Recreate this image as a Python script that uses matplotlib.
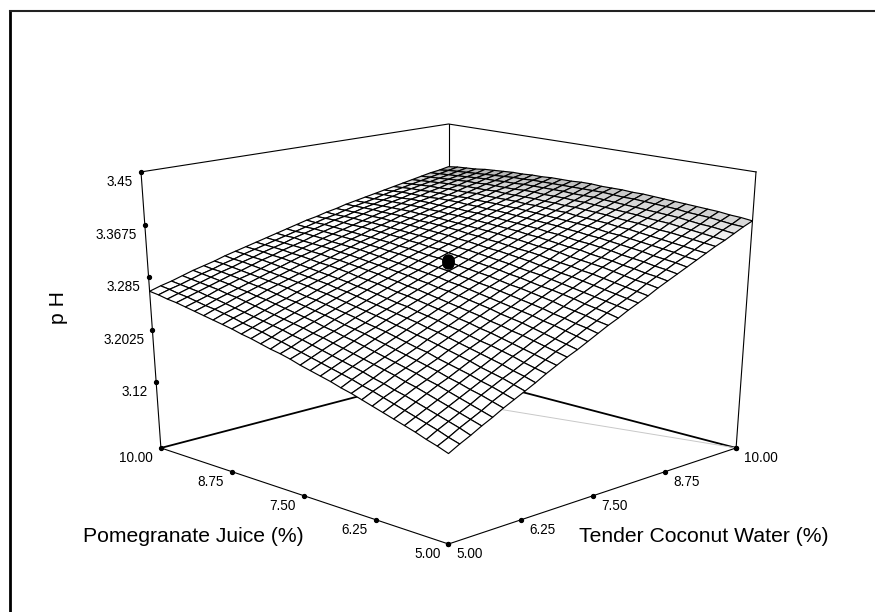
import numpy as np
import matplotlib
matplotlib.use('Agg')
import matplotlib.pyplot as plt
from matplotlib.lines import Line2D
from mpl_toolkits.mplot3d import proj3d

plt.rcParams['font.family'] = ['Liberation Sans', 'DejaVu Sans']

coconut = [5.0, 5.167, 5.333, 5.5, 5.667, 5.833, 6.0, 6.167, 6.333, 6.5, 6.667, 6.833, 7.0, 7.167, 7.333, 7.5,
           7.667, 7.833, 8.0, 8.167, 8.333, 8.5, 8.667, 8.833, 9.0, 9.167, 9.333, 9.5, 9.667, 9.833, 10.0]
pomegranate = [5.0, 5.167, 5.333, 5.5, 5.667, 5.833, 6.0, 6.167, 6.333, 6.5, 6.667, 6.833, 7.0, 7.167, 7.333, 7.5,
               7.667, 7.833, 8.0, 8.167, 8.333, 8.5, 8.667, 8.833, 9.0, 9.167, 9.333, 9.5, 9.667, 9.833, 10.0]
ph_grid = [
    [3.149,3.158,3.166,3.175,3.183,3.192,3.200,3.208,3.216,3.225,3.233,3.241,3.248,3.256,3.264,3.272,3.279,3.287,3.294,3.301,3.309,3.316,3.323,3.330,3.337,3.344,3.351,3.357,3.364,3.371,3.377],
    [3.155,3.163,3.172,3.180,3.188,3.197,3.205,3.213,3.221,3.229,3.237,3.245,3.252,3.260,3.268,3.275,3.283,3.290,3.297,3.304,3.312,3.319,3.326,3.333,3.339,3.346,3.353,3.359,3.366,3.372,3.379],
    [3.160,3.169,3.177,3.185,3.193,3.202,3.210,3.218,3.225,3.233,3.241,3.249,3.256,3.264,3.271,3.279,3.286,3.293,3.300,3.307,3.314,3.321,3.328,3.335,3.342,3.348,3.355,3.361,3.368,3.374,3.380],
    [3.166,3.174,3.182,3.190,3.198,3.206,3.214,3.222,3.230,3.238,3.245,3.253,3.260,3.268,3.275,3.282,3.289,3.296,3.303,3.310,3.317,3.324,3.331,3.337,3.344,3.350,3.357,3.363,3.369,3.376,3.382],
    [3.171,3.179,3.187,3.195,3.203,3.211,3.219,3.226,3.234,3.242,3.249,3.257,3.264,3.271,3.278,3.285,3.293,3.299,3.306,3.313,3.320,3.326,3.333,3.340,3.346,3.352,3.359,3.365,3.371,3.377,3.383],
    [3.176,3.184,3.192,3.200,3.208,3.215,3.223,3.231,3.238,3.246,3.253,3.260,3.268,3.275,3.282,3.289,3.296,3.302,3.309,3.316,3.323,3.329,3.335,3.342,3.348,3.354,3.360,3.367,3.373,3.378,3.384],
    [3.181,3.189,3.197,3.205,3.212,3.220,3.227,3.235,3.242,3.249,3.257,3.264,3.271,3.278,3.285,3.292,3.299,3.305,3.312,3.318,3.325,3.331,3.338,3.344,3.350,3.356,3.362,3.368,3.374,3.380,3.385],
    [3.186,3.194,3.201,3.209,3.217,3.224,3.231,3.239,3.246,3.253,3.260,3.267,3.274,3.281,3.288,3.295,3.301,3.308,3.314,3.321,3.327,3.333,3.340,3.346,3.352,3.358,3.364,3.369,3.375,3.381,3.386],
    [3.191,3.199,3.206,3.214,3.221,3.228,3.236,3.243,3.250,3.257,3.264,3.271,3.278,3.284,3.291,3.298,3.304,3.311,3.317,3.323,3.329,3.336,3.342,3.348,3.353,3.359,3.365,3.371,3.376,3.382,3.387],
    [3.196,3.203,3.210,3.218,3.225,3.232,3.239,3.247,3.254,3.260,3.267,3.274,3.281,3.287,3.294,3.300,3.307,3.313,3.319,3.325,3.332,3.337,3.343,3.349,3.355,3.361,3.366,3.372,3.377,3.383,3.388],
    [3.200,3.208,3.215,3.222,3.229,3.236,3.243,3.250,3.257,3.264,3.271,3.277,3.284,3.290,3.297,3.303,3.309,3.315,3.322,3.328,3.334,3.339,3.345,3.351,3.357,3.362,3.368,3.373,3.378,3.384,3.389],
    [3.205,3.212,3.219,3.226,3.233,3.240,3.247,3.254,3.261,3.267,3.274,3.280,3.287,3.293,3.299,3.306,3.312,3.318,3.324,3.330,3.335,3.341,3.347,3.352,3.358,3.363,3.369,3.374,3.379,3.384,3.389],
    [3.209,3.216,3.223,3.230,3.237,3.244,3.251,3.257,3.264,3.270,3.277,3.283,3.290,3.296,3.302,3.308,3.314,3.320,3.326,3.331,3.337,3.343,3.348,3.354,3.359,3.364,3.370,3.375,3.380,3.385,3.390],
    [3.213,3.220,3.227,3.234,3.241,3.248,3.254,3.261,3.267,3.274,3.280,3.286,3.292,3.298,3.304,3.310,3.316,3.322,3.328,3.333,3.339,3.344,3.350,3.355,3.360,3.366,3.371,3.376,3.381,3.386,3.390],
    [3.217,3.224,3.231,3.238,3.244,3.251,3.257,3.264,3.270,3.276,3.283,3.289,3.295,3.301,3.307,3.312,3.318,3.324,3.329,3.335,3.340,3.346,3.351,3.356,3.361,3.366,3.371,3.376,3.381,3.386,3.390],
    [3.222,3.228,3.235,3.242,3.248,3.254,3.261,3.267,3.273,3.279,3.285,3.291,3.297,3.303,3.309,3.315,3.320,3.326,3.331,3.336,3.342,3.347,3.352,3.357,3.362,3.367,3.372,3.377,3.381,3.386,3.391],
    [3.226,3.232,3.239,3.245,3.251,3.258,3.264,3.270,3.276,3.282,3.288,3.294,3.300,3.305,3.311,3.317,3.322,3.327,3.333,3.338,3.343,3.348,3.353,3.358,3.363,3.368,3.372,3.377,3.382,3.386,3.391],
    [3.229,3.236,3.242,3.249,3.255,3.261,3.267,3.273,3.279,3.285,3.291,3.296,3.302,3.307,3.313,3.318,3.324,3.329,3.334,3.339,3.344,3.349,3.354,3.359,3.364,3.368,3.373,3.377,3.382,3.386,3.390],
    [3.233,3.239,3.246,3.252,3.258,3.264,3.270,3.276,3.282,3.287,3.293,3.299,3.304,3.309,3.315,3.320,3.325,3.330,3.336,3.341,3.345,3.350,3.355,3.360,3.364,3.369,3.373,3.378,3.382,3.386,3.390],
    [3.237,3.243,3.249,3.255,3.261,3.267,3.273,3.279,3.284,3.290,3.295,3.301,3.306,3.311,3.317,3.322,3.327,3.332,3.337,3.342,3.346,3.351,3.356,3.360,3.365,3.369,3.373,3.378,3.382,3.386,3.390],
    [3.240,3.246,3.252,3.258,3.264,3.270,3.275,3.281,3.287,3.292,3.298,3.303,3.308,3.313,3.318,3.323,3.328,3.333,3.338,3.343,3.347,3.352,3.356,3.361,3.365,3.369,3.373,3.377,3.382,3.386,3.389],
    [3.244,3.249,3.255,3.261,3.267,3.272,3.278,3.284,3.289,3.294,3.300,3.305,3.310,3.315,3.320,3.325,3.330,3.334,3.339,3.344,3.348,3.352,3.357,3.361,3.365,3.369,3.374,3.377,3.381,3.385,3.389],
    [3.247,3.253,3.258,3.264,3.270,3.275,3.281,3.286,3.291,3.296,3.302,3.307,3.312,3.317,3.321,3.326,3.331,3.335,3.340,3.344,3.349,3.353,3.357,3.362,3.366,3.370,3.373,3.377,3.381,3.385,3.388],
    [3.250,3.256,3.261,3.267,3.272,3.278,3.283,3.288,3.293,3.298,3.303,3.308,3.313,3.318,3.323,3.327,3.332,3.336,3.341,3.345,3.349,3.353,3.357,3.362,3.365,3.369,3.373,3.377,3.380,3.384,3.388],
    [3.253,3.259,3.264,3.270,3.275,3.280,3.285,3.290,3.295,3.300,3.305,3.310,3.315,3.319,3.324,3.328,3.333,3.337,3.341,3.346,3.350,3.354,3.358,3.362,3.365,3.369,3.373,3.376,3.380,3.383,3.387],
    [3.256,3.261,3.267,3.272,3.277,3.282,3.287,3.292,3.297,3.302,3.307,3.311,3.316,3.320,3.325,3.329,3.334,3.338,3.342,3.346,3.350,3.354,3.358,3.361,3.365,3.369,3.372,3.376,3.379,3.382,3.386],
    [3.259,3.264,3.269,3.275,3.280,3.285,3.289,3.294,3.299,3.304,3.308,3.313,3.317,3.322,3.326,3.330,3.334,3.338,3.342,3.346,3.350,3.354,3.358,3.361,3.365,3.368,3.372,3.375,3.378,3.381,3.385],
    [3.262,3.267,3.272,3.277,3.282,3.287,3.291,3.296,3.301,3.305,3.310,3.314,3.318,3.323,3.327,3.331,3.335,3.339,3.343,3.347,3.350,3.354,3.357,3.361,3.364,3.368,3.371,3.374,3.377,3.380,3.383],
    [3.264,3.269,3.274,3.279,3.284,3.289,3.293,3.298,3.302,3.307,3.311,3.315,3.320,3.324,3.328,3.332,3.336,3.339,3.343,3.347,3.350,3.354,3.357,3.361,3.364,3.367,3.370,3.373,3.376,3.379,3.382],
    [3.267,3.272,3.276,3.281,3.286,3.290,3.295,3.299,3.304,3.308,3.312,3.316,3.320,3.324,3.328,3.332,3.336,3.339,3.343,3.347,3.350,3.353,3.357,3.360,3.363,3.366,3.369,3.372,3.375,3.378,3.381],
    [3.269,3.274,3.278,3.283,3.288,3.292,3.296,3.301,3.305,3.309,3.313,3.317,3.321,3.325,3.329,3.333,3.336,3.340,3.343,3.347,3.350,3.353,3.356,3.359,3.362,3.365,3.368,3.371,3.374,3.376,3.379],
]
center_ph = [3.3135, 3.3155, 3.3175]
xy_ticks = [5.0, 6.14, 7.35, 8.64, 10.0]
xy_labels = ['5.00', '6.25', '7.50', '8.75', '10.00']
ph_ticks = [3.125, 3.2075, 3.291, 3.3705, 3.45]
ph_labels = ['3.12', '3.2025', '3.285', '3.3675', '3.45']
ph_floor = 3.015


def main() -> None:
    W, H = 875, 612
    fig = plt.figure(figsize=(W / 100, H / 100), dpi=100)
    ax = fig.add_subplot(projection='3d', computed_zorder=False)
    ax.set_proj_type('persp', focal_length=0.5755)
    ax.view_init(elev=20.2, azim=-135)
    ax.set_box_aspect((1, 1, 1.02))
    ax.set_xlim(5, 10, view_margin=0)
    ax.set_ylim(5, 10, view_margin=0)
    ax.set_zlim(ph_floor, 3.45, view_margin=0)
    ax.set_axis_off()
    ax.apply_aspect = lambda position=None: None

    # fit the axes box so the cube lands where it is in the picture
    M = ax.get_proj()

    def proj(x, y, z):
        px, py, _ = proj3d.proj_transform(x, y, z, M)
        return px, py

    vl = ax.viewLim
    xl = (proj(5, 10, 3.45)[0] - vl.x0) / vl.width
    xr = (proj(10, 5, 3.45)[0] - vl.x0) / vl.width
    yb = (proj(5, 5, ph_floor)[1] - vl.y0) / vl.height
    yt = (proj(10, 10, 3.45)[1] - vl.y0) / vl.height
    w = (756 - 141) / (xr - xl)
    h = (544 - 124) / (yt - yb)
    x0 = 141 - xl * w
    y0 = (H - 544) - yb * h
    ax.set_position([x0 / W, y0 / H, w / W, h / H])
    ax.patch.set_visible(False)

    X, Y = np.meshgrid(coconut, pomegranate)
    Z = np.array(ph_grid)

    # facets go grey towards the far right edge
    grey = 1 - 1.3 * np.clip((X - 5) / 5 + 0.12 * (Y - 5) / 5 - 0.85, 0, 1)
    fc = np.dstack([grey, grey, grey, np.ones_like(grey)])

    def edge(xs, ys, zs, lw=0.8, color='black', zorder=1):
        ax.plot(xs, ys, zs, color=color, lw=lw, zorder=zorder, clip_on=False)

    # back of the box
    edge([5, 10, 10], [10, 10, 5], [3.45, 3.45, 3.45])
    edge([10, 10], [10, 10], [ph_floor, 3.45])
    edge([5, 10], [10, 10], [ph_floor, ph_floor], lw=1.3)
    edge([10, 10], [5, 10], [ph_floor, ph_floor], lw=1.3)
    edge([10, 9], [5, 9], [ph_floor, ph_floor], lw=0.7, color='#c8c8c8')

    surf = ax.plot_surface(X, Y, Z, rstride=1, cstride=1, facecolors=fc, linewidth=0.85, shade=False, zorder=2)
    surf.set_edgecolor('black')
    surf.set_clip_on(False)

    ax.plot([7.5] * 3, [7.5] * 3, center_ph, 'o', color='black', ms=9, mew=0, zorder=3, clip_on=False)

    # front of the box
    edge([5, 5], [10, 10], [ph_floor, 3.45], zorder=4)
    edge([10, 10], [5, 5], [ph_floor, 3.45], zorder=4)
    edge([5, 5, 10], [10, 5, 5], [ph_floor] * 3, zorder=4)

    ax.plot([5] * 5, xy_ticks, [ph_floor] * 5, 'o', color='black', ms=2.8, zorder=4, clip_on=False)
    ax.plot(xy_ticks, [5] * 5, [ph_floor] * 5, 'o', color='black', ms=2.8, zorder=4, clip_on=False)
    ax.plot([10], [5], [ph_floor], 'o', color='black', ms=2.8, zorder=4, clip_on=False)
    ax.plot([5] * 5, [10] * 5, ph_ticks, 'o', color='black', ms=2.8, zorder=4, clip_on=False)

    off = dict(textcoords='offset pixels', fontsize=9.75, annotation_clip=False, va='center')
    for t, s in zip(xy_ticks, xy_labels):
        ax.annotate(s, xy=proj(5, t, ph_floor), xytext=(-8, -10), ha='right', **off)
        ax.annotate(s, xy=proj(t, 5, ph_floor), xytext=(8, -10), ha='left', **off)
    for t, s in zip(ph_ticks, ph_labels):
        ax.annotate(s, xy=proj(5, 10, t), xytext=(-8, -10), ha='right', **off)

    fig.text(193 / W, 1 - 536.5 / H, 'Pomegranate Juice (%)', fontsize=15.2, ha='center', va='center')
    fig.text(703.5 / W, 1 - 536.5 / H, 'Tender Coconut Water (%)', fontsize=15.2, ha='center', va='center')
    fig.text(59 / W, 1 - 308 / H, 'p H', fontsize=15.2, rotation=90, ha='center', va='center')

    fig.add_artist(Line2D([9.5 / W, 9.5 / W], [0, 1 - 11 / H], color='black', lw=2))
    fig.add_artist(Line2D([9.5 / W, 1], [1 - 11 / H, 1 - 11 / H], color='#222222', lw=1.5))

    fig.savefig('out.png', dpi=100)


if __name__ == '__main__':
    main()
